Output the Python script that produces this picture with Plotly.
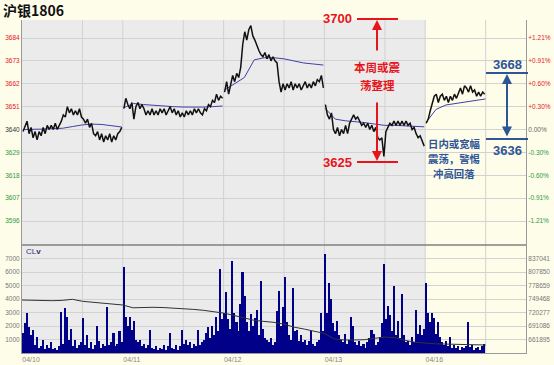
import plotly.graph_objects as go

# ---------------- data ----------------
DAYS = ["04/10", "04/11", "04/12", "04/13", "04/16"]
PRICE_TICKS = [3684, 3673, 3662, 3651, 3640, 3629, 3618, 3607, 3596]
PCT_LABELS = ["+1.21%", "+0.91%", "+0.60%", "+0.30%", "0.00%", "-0.30%", "-0.60%", "-0.91%", "-1.21%"]
VOL_TICKS = [1000, 2000, 3000, 4000, 5000, 6000, 7000]
OI_TICKS = [661895, 691086, 720277, 749468, 778659, 807850, 837041]
BASE_PRICE = 3640

PRICE_0410 = [3639, 3642, 3644, 3638, 3641, 3636, 3639, 3635, 3639, 3637,
              3641, 3638, 3642, 3640, 3642, 3640, 3643, 3640, 3642, 3644,
              3647, 3646, 3651, 3648, 3650, 3647, 3649, 3647, 3650, 3646,
              3645, 3643, 3645, 3641, 3643, 3638, 3637, 3639, 3635, 3638,
              3634, 3637, 3635, 3638, 3634, 3637, 3635, 3638, 3639, 3641]
PRICE_0411 = [3650, 3655, 3652, 3650, 3653, 3645, 3651, 3653, 3650, 3652,
              3650, 3647, 3649, 3647, 3650, 3647, 3649, 3647, 3650, 3648,
              3650, 3647, 3649, 3651, 3648, 3650, 3647, 3649, 3646, 3648,
              3646, 3649, 3647, 3649, 3647, 3650, 3648, 3650, 3648, 3647,
              3650, 3649, 3652, 3651, 3654, 3653, 3657, 3654, 3656, 3655]
PRICE_0412 = [3658, 3663, 3657, 3662, 3666, 3663, 3667, 3665, 3670, 3681,
              3687, 3683, 3688, 3690, 3685, 3683, 3680, 3678, 3676, 3675,
              3677, 3674, 3676, 3673, 3675, 3673, 3672, 3663, 3658, 3662,
              3659, 3662, 3660, 3663, 3659, 3662, 3660, 3662, 3659, 3661,
              3663, 3660, 3662, 3660, 3663, 3661, 3664, 3663, 3666, 3660]
PRICE_0413 = [3652, 3647, 3645, 3648, 3640, 3638, 3641, 3637, 3640, 3638,
              3642, 3638, 3643, 3645, 3647, 3645, 3646, 3644, 3642, 3643,
              3641, 3643, 3640, 3642, 3639, 3641, 3636, 3635, 3636, 3627,
              3639, 3641, 3643, 3642, 3644, 3642, 3644, 3642, 3644, 3642,
              3644, 3642, 3643, 3640, 3641, 3638, 3636, 3637, 3634, 3632]
PRICE_0416 = [3643, 3645, 3649, 3652, 3656, 3657, 3653, 3656, 3657, 3654,
              3656, 3653, 3656, 3654, 3657, 3655, 3658, 3660, 3657, 3661,
              3660, 3658, 3661, 3658, 3659, 3656, 3658, 3656, 3658, 3657]

AVG_0410 = [3640, 3640, 3640.2, 3640.4, 3640.6, 3641.4, 3642.2, 3642.6, 3642.4, 3641.8, 3641.2]
AVG_0411 = [3650.5, 3652.5, 3652, 3651.6, 3651.3, 3651, 3650.8, 3650.7, 3650.8, 3651, 3651.3]
AVG_0412 = [3659, 3662, 3665, 3673.5, 3674.5, 3674.5, 3674, 3673, 3672, 3671.5, 3671]
AVG_0413 = [3650, 3645, 3644.2, 3643.8, 3643.3, 3642.6, 3642, 3642, 3641.8, 3641.5, 3641.3]
AVG_0416 = [3643.5, 3649.7, 3651.8, 3652.6, 3653.2, 3653.9, 3654.7]

VOL_0410 = [1500, 2200, 2950, 1900, 1300, 1700, 600, 1200, 400, 500,
            950, 300, 600, 400, 800, 300, 400, 250, 500, 3050,
            700, 3330, 2700, 1000, 1800, 500, 1000, 400, 600, 800,
            2600, 600, 1330, 400, 800, 300, 600, 2000, 900, 400,
            700, 500, 3430, 600, 800, 1500, 500, 700, 1600, 800]
VOL_0411 = [6400, 2700, 2000, 2700, 1700, 2400, 1000, 800, 960, 500,
            700, 400, 600, 1700, 400, 300, 500, 250, 400, 300,
            600, 250, 500, 1480, 400, 300, 600, 250, 500, 1700,
            700, 960, 600, 800, 400, 700, 500, 1700, 600, 800,
            1000, 1500, 1950, 1100, 2000, 1300, 2700, 1600, 6200, 2500]
VOL_0412 = [3000, 4500, 2500, 1800, 6800, 3000, 2300, 1600, 3600, 6000,
            4200, 2300, 1600, 2900, 2000, 2600, 3150, 1300, 5300, 1800,
            1100, 1000, 800, 1100, 600, 800, 3100, 4600, 2000, 3400,
            5600, 2300, 1300, 1000, 4800, 1600, 1700, 900, 1300, 800,
            1000, 600, 900, 1600, 700, 500, 800, 1000, 3000, 1600]
VOL_0413 = [7300, 3000, 5200, 4000, 2200, 1600, 2400, 1300, 1000, 800,
            1400, 700, 1000, 2700, 2000, 800, 600, 900, 500, 700,
            400, 800, 1100, 1700, 1400, 600, 800, 1200, 2200, 6600,
            2500, 3500, 2800, 1600, 5000, 1300, 2400, 1100, 4400, 1300,
            800, 900, 600, 1200, 800, 3200, 1400, 2100, 1300, 1800]
VOL_0416 = [5200, 3000, 2300, 3000, 2600, 1400, 2300, 1200, 800, 600,
            900, 500, 1200, 400, 600, 350, 500, 250, 450, 350,
            500, 2300, 450, 600, 250, 350, 450, 250, 500, 650]

OI = [747300, 746500, 745800, 745800, 746500, 748800, 744500, 742500, 741000, 739000,
      736500, 730500, 731500, 731500, 731000, 730000, 729000, 727000, 725000, 722500,
      719000, 714000, 709000, 703500, 701000, 699000, 695000, 688500, 684500, 680000,
      675000, 663000, 660800, 660800, 661500, 664500, 667000, 666000, 660000, 656000,
      654000, 652500, 652000, 651500, 651000, 650500, 650000]

RED_NOTE = ["本周或震", "荡整理"]
BLUE_NOTE = ["日内或宽幅", "震荡，警惕", "冲高回落"]

PRICES = [PRICE_0410, PRICE_0411, PRICE_0412, PRICE_0413, PRICE_0416]
AVGS = [AVG_0410, AVG_0411, AVG_0412, AVG_0413, AVG_0416]
VOLS = [VOL_0410, VOL_0411, VOL_0412, VOL_0413, VOL_0416]

# ---------------- build series ----------------
PTS_PER_DAY = 50
px_, py_ = [], []
ax_, ay_ = [], []
vx_, vy_ = [], []
for d in range(len(DAYS)):
    for i, v in enumerate(PRICES[d]):
        px_.append(d + (i + 0.5) / PTS_PER_DAY)
        py_.append(v)
    px_.append(None); py_.append(None)
    for k, v in enumerate(AVGS[d]):
        ax_.append(d + 0.01 + k * 0.098)
        ay_.append(v)
    ax_.append(None); ay_.append(None)
    for i, v in enumerate(VOLS[d]):
        vx_.append(d + (i + 0.5) / PTS_PER_DAY)
        vy_.append(v)
oix = [k * 0.1 for k in range(len(OI))]

# ---------------- layout geometry ----------------
W, H = 554, 365
ML, MR, MT, MB = 22, 28, 20, 12
PW, PH = W - ML - MR, H - MT - MB
SPLIT = (H - MB - 245) / PH  # price panel bottom


def fx(x):
    return (x - ML) / PW


def fy(y):
    return (H - MB - y) / PH


RED = "#e8141c"
GREEN = "#2e9a3a"
BLUE = "#2f5597"
GRAYBG = "#ebebeb"
CREAM = "#fdfdea"
GRID = "#d2d2d2"
TICKFONT = dict(family="Liberation Sans, Arial", size=6.5, color="#777")


def col(v):
    if v > BASE_PRICE:
        return RED
    if v < BASE_PRICE:
        return GREEN
    return "#333"


left_txt = [f'<span style="color:{col(v)}">{v}</span>' for v in PRICE_TICKS]
right_txt = [f'<span style="color:{col(v) if v != BASE_PRICE else "#666"}">{t}</span>'
             for v, t in zip(PRICE_TICKS, PCT_LABELS)]

fig = go.Figure()
fig.add_trace(go.Bar(x=vx_, y=vy_, width=0.8 / PTS_PER_DAY, marker=dict(color="#000088", line=dict(width=0)),
                     xaxis="x", yaxis="y3", showlegend=False))
fig.add_trace(go.Scatter(x=oix, y=OI, mode="lines", line=dict(color="#333", width=1),
                         xaxis="x", yaxis="y4", showlegend=False))
fig.add_trace(go.Scatter(x=ax_, y=ay_, mode="lines", line=dict(color="#4040a8", width=1),
                         xaxis="x", yaxis="y", showlegend=False, connectgaps=False))
fig.add_trace(go.Scatter(x=px_, y=py_, mode="lines", line=dict(color="#111", width=1.5),
                         xaxis="x", yaxis="y", showlegend=False, connectgaps=False))
fig.add_trace(go.Scatter(x=[None], y=[None], xaxis="x", yaxis="y2", showlegend=False))

price_range = [3584.46, 3692.66]
shapes = [
    dict(type="rect", xref="x", yref="paper", x0=0, x1=4, y0=0, y1=1,
         fillcolor=GRAYBG, line=dict(width=0), layer="below"),
]
for d in range(len(DAYS)):
    for off in (0, 0.6):
        xv = d + off
        if 0 < xv < 5:
            shapes.append(dict(type="line", xref="x", yref="paper", x0=xv, x1=xv, y0=0, y1=1,
                               line=dict(color=GRID, width=1), layer="below"))
shapes += [
    dict(type="line", xref="paper", yref="y", x0=0, x1=1, y0=BASE_PRICE, y1=BASE_PRICE,
         line=dict(color="#a0a0a0", width=1), layer="below"),
    dict(type="line", xref="paper", yref="paper", x0=0, x1=1, y0=SPLIT, y1=SPLIT,
         line=dict(color="#808080", width=1.5)),
    dict(type="line", xref="paper", yref="paper", x0=fx(357), x1=fx(398), y0=fy(19), y1=fy(19),
         line=dict(color=RED, width=2)),
    dict(type="line", xref="paper", yref="paper", x0=fx(357), x1=fx(398), y0=fy(162), y1=fy(162),
         line=dict(color=RED, width=2)),
    dict(type="line", xref="paper", yref="paper", x0=fx(486), x1=fx(528), y0=fy(73), y1=fy(73),
         line=dict(color=BLUE, width=2)),
    dict(type="line", xref="paper", yref="paper", x0=fx(486), x1=fx(528), y0=fy(139), y1=fy(139),
         line=dict(color=BLUE, width=2)),
]

C = dict(xanchor="center", yanchor="middle", showarrow=False, xref="paper", yref="paper")
ARROW = dict(text="", xref="paper", yref="paper", showarrow=True, arrowhead=2,
             arrowwidth=2, arrowsize=1)
annos = [
    dict(text="<b>沪银1806</b>", xref="paper", yref="paper", x=fx(1), y=fy(10), xanchor="left",
         yanchor="middle", showarrow=False,
         font=dict(family="Noto Sans CJK SC", size=14, color="#111")),
    dict(text="CL<b>v</b>", xref="paper", yref="paper", x=fx(24), y=fy(251), xanchor="left",
         yanchor="middle", showarrow=False, font=dict(family="Liberation Sans", size=8, color="#333380")),
    # red arrow, split around the text
    dict(x=fx(377), y=fy(20), ax=0, ay=32, arrowcolor=RED, **ARROW),
    dict(x=fx(377), y=fy(161), ax=0, ay=-60, arrowcolor=RED, **ARROW),
    dict(text="<b>3700</b>", x=fx(337), y=fy(19), font=dict(family="Liberation Sans", size=13, color=RED), **C),
    dict(text="<b>3625</b>", x=fx(337), y=fy(162), font=dict(family="Liberation Sans", size=13, color=RED), **C),
    # blue arrow
    dict(text="", xref="paper", yref="paper", x=fx(507), y=fy(74), ax=0, ay=64,
         showarrow=True, arrowhead=2, startarrowhead=2, arrowside="end+start",
         arrowcolor=BLUE, arrowwidth=2, arrowsize=1, startarrowsize=1),
    dict(text="<b>3668</b>", x=fx(507), y=fy(64), font=dict(family="Liberation Sans", size=13, color=BLUE), **C),
    dict(text="<b>3636</b>", x=fx(507), y=fy(150), font=dict(family="Liberation Sans", size=13, color=BLUE), **C),
]
for line_txt, yy in zip(RED_NOTE, [67.5, 84.5]):
    annos.append(dict(text=f"<b>{line_txt}</b>", x=fx(377), y=fy(yy), borderpad=0,
                      font=dict(family="Noto Sans CJK SC", size=11.5, color=RED), **C))
for line_txt, yy in zip(BLUE_NOTE, [143, 158.3, 173.6]):
    annos.append(dict(text=f"<b>{line_txt}</b>", x=fx(454), y=fy(yy), borderpad=0,
                      font=dict(family="Noto Sans CJK SC", size=10.4, color=BLUE), **C))

fig.update_layout(
    width=W, height=H,
    margin=dict(l=ML, r=MR, t=MT, b=MB, autoexpand=False),
    paper_bgcolor=CREAM, plot_bgcolor="rgba(0,0,0,0)",
    bargap=0, showlegend=False,
    shapes=shapes, annotations=annos,
    xaxis=dict(domain=[0, 1], range=[0, 5], anchor="y3", showgrid=False, zeroline=False, automargin=False,
               tickvals=[d + 0.09 for d in range(len(DAYS))], ticktext=DAYS, ticks="",
               tickfont=dict(family="Liberation Sans, Arial", size=7, color="#888"),
               showline=True, linecolor="#999", linewidth=1),
    yaxis=dict(domain=[SPLIT, 1], range=price_range, tickvals=PRICE_TICKS, ticktext=left_txt, automargin=False,
               showgrid=True, gridcolor=GRID, gridwidth=1, zeroline=False, ticks="",
               tickfont=TICKFONT, showline=True, linecolor="#999", anchor="x"),
    yaxis2=dict(overlaying="y", side="right", range=price_range, tickvals=PRICE_TICKS, ticktext=right_txt,
                showgrid=False, zeroline=False, ticks="", tickfont=TICKFONT, automargin=False,
                showline=True, linecolor="#999", anchor="x"),
    yaxis3=dict(domain=[0, SPLIT], range=[0, 8000], tickvals=VOL_TICKS, ticktext=[str(v) for v in VOL_TICKS],
                showgrid=True, gridcolor=GRID, gridwidth=1, zeroline=False, ticks="", automargin=False,
                tickfont=TICKFONT, showline=True, linecolor="#999", anchor="x"),
    yaxis4=dict(overlaying="y3", side="right", range=[632704, 866232], tickvals=OI_TICKS,
                ticktext=[str(v) for v in OI_TICKS], showgrid=False, zeroline=False, ticks="", automargin=False,
                tickfont=TICKFONT, showline=True, linecolor="#999", anchor="x"),
)

fig.write_html("out.html")
